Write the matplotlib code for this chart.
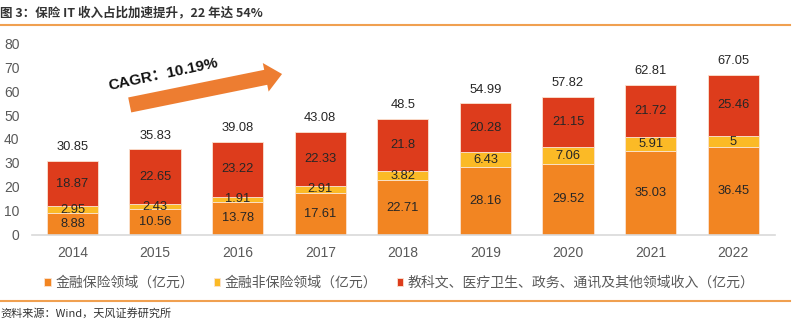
import matplotlib
matplotlib.use("Agg")
import matplotlib.pyplot as plt
from matplotlib.patches import FancyArrowPatch
import numpy as np

plt.rcParams['font.family'] = ['Liberation Sans', 'Noto Sans CJK SC', 'DejaVu Sans']

years = ['2014', '2015', '2016', '2017', '2018', '2019', '2020', '2021', '2022']
insurance = [8.88, 10.56, 13.78, 17.61, 22.71, 28.16, 29.52, 35.03, 36.45]
non_insurance = [2.95, 2.43, 1.91, 2.91, 3.82, 6.43, 7.06, 5.91, 5]
other_fields = [18.87, 22.65, 23.22, 22.33, 21.8, 20.28, 21.15, 21.72, 25.46]
totals = [30.85, 35.83, 39.08, 43.08, 48.5, 54.99, 57.82, 62.81, 67.05]
series_names = ['金融保险领域（亿元）', '金融非保险领域（亿元）',
                '教科文、医疗卫生、政务、通讯及其他领域收入（亿元）']
title_text = '图 3：保险 IT 收入占比加速提升，22 年达 54%'
source_text = '资料来源：Wind，天风证券研究所'
cagr_text = 'CAGR：10.19%'

colors = ['#F28522', '#FBBA26', '#DD3C1C']
W, H = 804, 323

fig = plt.figure(figsize=(W / 100, H / 100), dpi=100)
ax = fig.add_axes([32 / W, 88.3 / H, (775 - 32) / W, (234.7 - 43.3) / H])

x = np.arange(len(years))
bw = 0.62
ins = np.array(insurance)
non = np.array(non_insurance)
oth = np.array(other_fields)

b1 = ax.bar(x, ins, bw, color=colors[0], edgecolor='#FBE3D0', linewidth=0.6, label=series_names[0])
b2 = ax.bar(x, non, bw, bottom=ins, color=colors[1], edgecolor='#FBE3D0', linewidth=0.6, label=series_names[1])
b3 = ax.bar(x, oth, bw, bottom=ins + non, color=colors[2], edgecolor='#FBE3D0', linewidth=0.6, label=series_names[2])

lab_kw = dict(ha='center', va='center', fontsize=9.3, color='#262626')
for i in range(len(years)):
    ax.text(x[i], ins[i] / 2, f'{insurance[i]:g}', **lab_kw)
    ax.text(x[i], ins[i] + non[i] / 2, f'{non_insurance[i]:g}', **lab_kw)
    ax.text(x[i], ins[i] + non[i] + oth[i] / 2, f'{other_fields[i]:g}', **lab_kw)
    top = ins[i] + non[i] + oth[i]
    ax.annotate(f'{totals[i]:g}', (x[i], top), xytext=(0, 10), textcoords='offset points',
                ha='center', va='center', fontsize=9.3, color='#262626')

ax.set_ylim(0, 80)
ax.set_xlim(-0.49, 8.505)
ax.set_yticks(range(0, 81, 10))
ax.set_xticks(x)
ax.set_xticklabels(years)
for s in ['top', 'right', 'left']:
    ax.spines[s].set_visible(False)
ax.spines['bottom'].set_color('#D9D9D9')
ax.spines['bottom'].set_linewidth(1.2)
ax.tick_params(axis='both', length=0, labelsize=10, colors='#595959')
ax.tick_params(axis='y', pad=9)
ax.tick_params(axis='x', pad=8)

# growth arrow with CAGR text
arrow = FancyArrowPatch((0.66, 54.0), (2.57, 67.4),
                        arrowstyle='simple,head_length=12,head_width=21,tail_width=11',
                        mutation_scale=1, color='#ED7D31', linewidth=0)
ax.add_patch(arrow)
ax.text(1.1, 67.0, cagr_text, rotation=12, ha='center', va='center',
        fontsize=11, fontweight='bold', color='#111111',
        family=['Liberation Sans', 'Noto Sans CJK SC'])

leg = fig.legend(handles=[b1, b2, b3], labels=series_names, loc='center',
                 bbox_to_anchor=(0.497, 1 - 283 / H), ncol=3, frameon=False,
                 handlelength=0.45, handleheight=0.45, handletextpad=0.35,
                 columnspacing=1.4, prop={'family': ['Noto Sans CJK SC'], 'size': 10})
for t in leg.get_texts():
    t.set_color('#595959')

# header and footer
fig.text(0, 1 - 13 / H, title_text, ha='left', va='center', fontsize=9,
         fontweight='bold', color='#333333', family=['Noto Sans CJK SC'])
fig.add_artist(plt.Line2D([0, 790 / W], [1 - 25 / H, 1 - 25 / H], color='#F0A050', linewidth=1.5))
fig.add_artist(plt.Line2D([0, 790 / W], [1 - 301 / H, 1 - 301 / H], color='#F0A050', linewidth=1.5))
fig.text(0, 1 - 313 / H, source_text, ha='left', va='center', fontsize=8,
         color='#333333', family=['Noto Sans CJK SC'])

fig.savefig('out.png', dpi=100)
